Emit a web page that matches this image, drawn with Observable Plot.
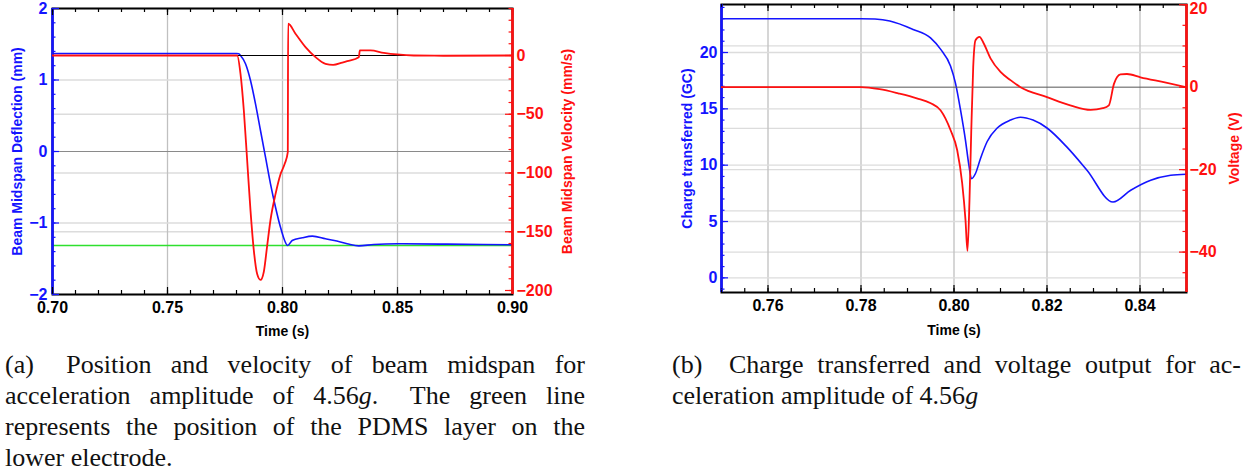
<!DOCTYPE html>
<html>
<head>
<meta charset="utf-8">
<script src="https://cdn.jsdelivr.net/npm/d3@7"></script>
<script src="https://cdn.jsdelivr.net/npm/@observablehq/plot@0.6"></script>
<style>
  html, body { margin: 0; padding: 0; background: #fff; }
  body { width: 1251px; height: 473px; overflow: hidden; position: relative; font-family: "Liberation Sans", Arial, sans-serif; }
  .layer { position: absolute; top: 0; }
  .layer svg { overflow: visible; }
  .cap { position: absolute; font-family: "Liberation Serif", "Times New Roman", serif; font-size: 26px; line-height: 31px; color: #111; }
  .cap .j { text-align: justify; text-align-last: justify; }
  .cap .l { text-align: left; }
</style>
</head>
<body>
<div id="a0" class="layer" style="left:0"></div>
<div id="a1" class="layer" style="left:0"></div>
<div id="a2" class="layer" style="left:0"></div>
<div id="b0" class="layer" style="left:630px"></div>
<div id="b1" class="layer" style="left:630px"></div>
<div id="b2" class="layer" style="left:630px"></div>
<div class="cap" style="left:5px; top:349px; width:580px">
  <div class="j">(a)&ensp; Position and velocity of beam midspan for</div>
  <div class="j">acceleration amplitude of 4.56<i>g</i>.&ensp; The green line</div>
  <div class="j">represents the position of the PDMS layer on the</div>
  <div class="l">lower electrode.</div>
</div>
<div class="cap" style="left:672px; top:349px; width:569px">
  <div class="j">(b)&ensp; Charge transferred and voltage output for ac-</div>
  <div class="l">celeration amplitude of 4.56<i>g</i></div>
</div>
<script>
// ---------------- Panel (a): beam midspan ----------------
const deflTime   = [0.700, 0.780, 0.7810, 0.78174, 0.78391, 0.78609, 0.78826, 0.79043, 0.79261, 0.79478, 0.79696, 0.79913, 0.80230, 0.80420, 0.80857, 0.8130, 0.8187, 0.8225, 0.8281, 0.8332, 0.8397, 0.8499, 0.8716, 0.9000];
const deflection = [1.370, 1.370, 1.366, 1.343, 1.227, 0.993, 0.667, 0.294, -0.080, -0.452, -0.779, -1.059, -1.314, -1.245, -1.207, -1.184, -1.220, -1.245, -1.290, -1.320, -1.300, -1.290, -1.296, -1.305];
const velTime    = [0.700, 0.7800, 0.78030, 0.78174, 0.78319, 0.78464, 0.78609, 0.78754, 0.78899, 0.79043, 0.79188, 0.79333, 0.79478, 0.79696, 0.79913, 0.80100, 0.80230, 0.80245, 0.80565, 0.81000, 0.81435, 0.81870, 0.82200, 0.82600, 0.82812, 0.83319, 0.83362, 0.83826, 0.84405, 0.84986, 0.85709, 0.8700, 0.9000];
const velocity   = [0, 0, 0, -15.6, -46.8, -89.4, -132, -166, -186, -191, -184, -162, -140, -118, -101, -92, -82.3, 27, 18.5, 7.1, -1.4, -7.1, -8.0, -6.0, -4.8, -1.4, 4.3, 4.3, 2.3, 0.9, 0, -0.2, 0];
const pdmsLevel  = [-1.315];
const timeDomainA = [0.70, 0.90];
const deflDomain  = [-2, 2];
const velDomain   = [-203.4, 40];
const timeTicksA  = [0.70, 0.75, 0.80, 0.85, 0.90];
const deflTicks   = [-2, -1, 0, 1, 2];
const velTicks    = [-200, -150, -100, -50, 0];

// ---------------- Panel (b): charge & voltage ----------------
const chargeTime = [0.750, 0.780, 0.7830, 0.7862, 0.7912, 0.79495, 0.7971, 0.79925, 0.8003, 0.8014, 0.80247, 0.8032, 0.80376, 0.80462, 0.8057, 0.80714, 0.8093, 0.81215, 0.8143, 0.8170, 0.8200, 0.8243, 0.8286, 0.8342, 0.8380, 0.8423, 0.8466, 0.8500];
const charge     = [23.0, 23.0, 22.97, 22.8, 22.05, 21.3, 20.3, 18.8, 17.3, 14.9, 12.2, 10.0, 8.8, 9.26, 10.6, 12.1, 13.3, 14.0, 14.26, 14.0, 13.3, 11.6, 9.55, 6.73, 7.77, 8.66, 9.1, 9.2];
const voltTime   = [0.750, 0.780, 0.784, 0.788, 0.792, 0.7950, 0.7971, 0.79925, 0.80069, 0.80176, 0.80247, 0.8029, 0.80333, 0.8037, 0.80413, 0.80462, 0.80548, 0.8064, 0.80785, 0.8100, 0.81215, 0.8143, 0.8200, 0.8250, 0.8294, 0.8320, 0.8333, 0.8344, 0.8358, 0.8372, 0.8401, 0.8451, 0.8500];
const voltage    = [0, 0, -0.5, -1.5, -2.7, -3.9, -5.6, -10.4, -15.3, -23.3, -32.2, -39.7, -27.4, -11.2, 4.9, 11.4, 12.2, 10.6, 7.0, 3.7, 1.7, 0, -2.4, -4.4, -5.5, -5.1, -4.4, 0.8, 3.1, 3.2, 2.4, 1.2, 0];
const timeDomainB  = [0.75, 0.85];
const chargeDomain = [-1.30, 24.26];
const voltDomain   = [-49.8, 20.05];
const timeTicksB   = [0.76, 0.78, 0.80, 0.82, 0.84];
const chargeTicks  = [0, 5, 10, 15, 20];
const voltTicks    = [-40, -20, 0, 20];
const voltGrid     = [-40, -30, -20, -10, 10];

// ---------------- styling helpers ----------------
const BLUE = "#1414ff", RED = "#ff1010", GREEN = "#2ee02e";
const GRID_H = "#dcdcdc", GRID_V = "#c0c0c0";
const FONT = "Liberation Sans, Arial, sans-serif";
const TICK_FS = 16;
const zip = (xs, ys) => xs.map((x, i) => ({x, y: ys[i]}));
const steps = (a, b, s) => d3.range(Math.round((b - a) / s) + 1).map(i => +(a + i * s).toFixed(5));

function ticksX(vals, len, H) {
  return [
    Plot.tickX(vals, {x: d => d, stroke: "#000", strokeWidth: 1.2, insetTop: H - len}),
    Plot.tickX(vals, {x: d => d, stroke: "#000", strokeWidth: 1.2, insetBottom: H - len})
  ];
}
function ticksY(vals, len, W, side, color) {
  return Plot.tickY(vals, {y: d => d, stroke: color, strokeWidth: 1.2,
    insetRight: side === "left" ? W - len : 0, insetLeft: side === "right" ? W - len : 0});
}
function title(text, opts) {
  return Plot.text([text], {text: d => d, fontSize: 14, fontWeight: "bold", fontFamily: FONT, textAnchor: "middle", lineAnchor: "middle", ...opts});
}
const style = {background: "transparent", fontFamily: FONT, overflow: "visible"};

// ---------------- Panel (a) layers ----------------
{
  const width = 630, height = 345, mL = 52, mR = 118, mT = 8, mB = 51;
  const W = width - mL - mR, H = height - mT - mB;
  const base = {width, height, marginLeft: mL, marginRight: mR, marginTop: mT, marginBottom: mB, style};

  // bottom layer: velocity-scale grid lines
  document.getElementById("a0").append(Plot.plot({
    ...base,
    x: {domain: timeDomainA, axis: null},
    y: {domain: velDomain, axis: null},
    marks: [
      Plot.gridY(velTicks.filter(d => d !== 0 && d !== -200), {stroke: GRID_H, strokeOpacity: 1, strokeWidth: 1.3})
    ]
  }));

  // middle layer: deflection (blue) with frame and x axis
  document.getElementById("a1").append(Plot.plot({
    ...base,
    x: {domain: timeDomainA},
    y: {domain: deflDomain},
    marks: [
      Plot.gridX(timeTicksA, {stroke: GRID_V, strokeOpacity: 1, strokeWidth: 1.3}),
      Plot.gridY(deflTicks.filter(d => d !== 0), {stroke: GRID_H, strokeOpacity: 1, strokeWidth: 1.3}),
      Plot.ruleY([0], {stroke: "#8a8a8a", strokeWidth: 1}),
      Plot.ruleY(pdmsLevel, {stroke: GREEN, strokeWidth: 1.6}),
      Plot.line(zip(deflTime, deflection), {x: "x", y: "y", stroke: BLUE, strokeWidth: 1.6, curve: "monotone-x", clip: true}),
      Plot.frame({stroke: "#000", strokeWidth: 2}),
      Plot.ruleX([timeDomainA[0]], {stroke: BLUE, strokeWidth: 2.6}),
      ...ticksX(steps(0.70, 0.90, 0.01), 4, H),
      ...ticksX(timeTicksA, 7, H),
      ticksY(steps(-2, 2, 0.2), 3.5, W, "left", BLUE),
      ticksY(deflTicks, 7, W, "left", BLUE),
      Plot.axisX(timeTicksA, {tickSize: 0, tickPadding: 7, tickFormat: d3.format(".2f"), fontSize: TICK_FS, fontWeight: "bold", label: null}),
      Plot.axisY(deflTicks, {tickSize: 0, tickPadding: 5, tickFormat: d3.format("d"), fontSize: TICK_FS, fontWeight: "bold", color: BLUE, label: null}),
      title("Beam Midspan Deflection (mm)", {frameAnchor: "left", dx: -35, rotate: -90, fill: BLUE}),
      title("Time (s)", {frameAnchor: "bottom", dy: 37, fill: "#000"})
    ]
  }));

  // top layer: velocity (red) with right axis
  document.getElementById("a2").append(Plot.plot({
    ...base,
    x: {domain: timeDomainA, axis: null},
    y: {domain: velDomain},
    marks: [
      Plot.ruleY([0], {stroke: "#000", strokeWidth: 1.1}),
      Plot.line(zip(velTime, velocity), {x: "x", y: "y", stroke: RED, strokeWidth: 1.8, curve: "monotone-x", clip: true}),
      Plot.ruleX([timeDomainA[1]], {stroke: RED, strokeWidth: 2.6}),
      ticksY(steps(-200, 40, 10), 3.5, W, "right", RED),
      ticksY(velTicks, 7, W, "right", RED),
      Plot.axisY(velTicks, {anchor: "right", tickSize: 0, tickPadding: 4, tickFormat: d3.format("d"), fontSize: TICK_FS, fontWeight: "bold", color: RED, label: null}),
      title("Beam Midspan Velocity (mm/s)", {frameAnchor: "right", dx: 55, rotate: -90, fill: RED})
    ]
  }));
}

// ---------------- Panel (b) layers ----------------
{
  const width = 621, height = 345, mL = 91, mR = 65, mT = 4, mB = 53;
  const W = width - mL - mR, H = height - mT - mB;
  const base = {width, height, marginLeft: mL, marginRight: mR, marginTop: mT, marginBottom: mB, style};

  document.getElementById("b0").append(Plot.plot({
    ...base,
    x: {domain: timeDomainB, axis: null},
    y: {domain: voltDomain, axis: null},
    marks: [
      Plot.gridY(voltGrid, {stroke: GRID_H, strokeOpacity: 1, strokeWidth: 1.3})
    ]
  }));

  document.getElementById("b1").append(Plot.plot({
    ...base,
    x: {domain: timeDomainB},
    y: {domain: chargeDomain},
    marks: [
      Plot.gridX(timeTicksB, {stroke: GRID_V, strokeOpacity: 1, strokeWidth: 1.3}),
      Plot.gridY(chargeTicks, {stroke: GRID_H, strokeOpacity: 1, strokeWidth: 1.3}),
      Plot.line(zip(chargeTime, charge), {x: "x", y: "y", stroke: BLUE, strokeWidth: 1.6, curve: "monotone-x", clip: true}),
      Plot.frame({stroke: "#000", strokeWidth: 2}),
      Plot.ruleX([timeDomainB[0]], {stroke: BLUE, strokeWidth: 2.6}),
      ...ticksX(steps(0.75, 0.85, 0.005), 4, H),
      ...ticksX(timeTicksB, 7, H),
      ticksY(steps(-1, 24, 1), 3.5, W, "left", BLUE),
      ticksY(chargeTicks, 7, W, "left", BLUE),
      Plot.axisX(timeTicksB, {tickSize: 0, tickPadding: 7, tickFormat: d3.format(".2f"), fontSize: TICK_FS, fontWeight: "bold", label: null}),
      Plot.axisY(chargeTicks, {tickSize: 0, tickPadding: 4, tickFormat: d3.format("d"), fontSize: TICK_FS, fontWeight: "bold", color: BLUE, label: null}),
      title("Charge transferred (GC)", {frameAnchor: "left", dx: -34, rotate: -90, fill: BLUE}),
      title("Time (s)", {frameAnchor: "bottom", dy: 38, fill: "#000"})
    ]
  }));

  document.getElementById("b2").append(Plot.plot({
    ...base,
    x: {domain: timeDomainB, axis: null},
    y: {domain: voltDomain},
    marks: [
      Plot.ruleY([0], {stroke: "#555", strokeWidth: 1}),
      Plot.line(zip(voltTime, voltage), {x: "x", y: "y", stroke: RED, strokeWidth: 1.8, curve: "monotone-x", clip: true}),
      Plot.ruleX([timeDomainB[1]], {stroke: RED, strokeWidth: 2.6}),
      ticksY(steps(-45, 20, 5), 3.5, W, "right", RED),
      ticksY(voltTicks, 7, W, "right", RED),
      Plot.axisY(voltTicks.filter(d => d < 20), {anchor: "right", tickSize: 0, tickPadding: 3, tickFormat: d3.format("d"), fontSize: TICK_FS, fontWeight: "bold", color: RED, label: null}),
      Plot.axisY(voltTicks.filter(d => d >= 20), {anchor: "right", tickSize: 0, tickPadding: 3, dy: 4, tickFormat: d3.format("d"), fontSize: TICK_FS, fontWeight: "bold", color: RED, label: null}),
      title("Voltage (V)", {frameAnchor: "right", dx: 48, rotate: -90, fill: RED})
    ]
  }));
}
</script>
</body>
</html>
